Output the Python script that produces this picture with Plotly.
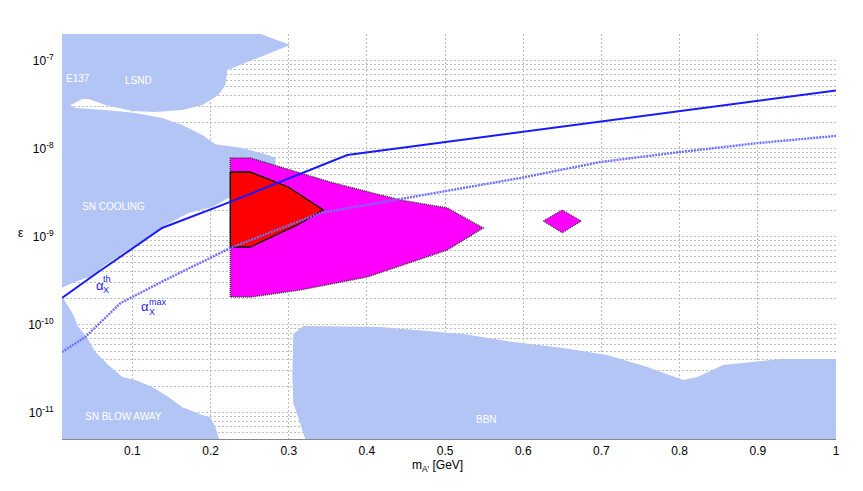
import math
import plotly.graph_objects as go

# ---------------- axis ticks ----------------
x_ticks = [0.1, 0.2, 0.3, 0.4, 0.5, 0.6, 0.7, 0.8, 0.9, 1.0]
x_tick_labels = ["0.1", "0.2", "0.3", "0.4", "0.5", "0.6", "0.7", "0.8", "0.9", "1"]
y_decades = [-12, -11, -10, -9, -8, -7]
y_mantissas = [2, 3, 4, 5, 6, 7, 8, 9]

# ---------------- excluded regions (blue) ----------------
# LSND + E137 + SN cooling (connected at the left edge)
left_x = [0.01, 0.264, 0.302, 0.2215, 0.219, 0.210, 0.1895, 0.164, 0.129, 0.100,
          0.0655, 0.0437, 0.0361, 0.0207, 0.0271, 0.0655, 0.1038, 0.138, 0.164,
          0.1895, 0.206, 0.241, 0.274, 0.283, 0.283, 0.2253, 0.2023, 0.1716,
          0.138, 0.1128, 0.0872, 0.0616, 0.0488, 0.0399, 0.0143, 0.01]
left_y = [2.0e-7, 2.0e-7, 1.50e-7, 7.80e-8, 5.26e-8, 4.06e-8, 3.12e-8, 2.74e-8, 2.60e-8, 2.67e-8,
          3.12e-8, 3.65e-8, 3.65e-8, 3.12e-8, 2.88e-8, 2.74e-8, 2.53e-8, 2.22e-8, 1.85e-8,
          1.42e-8, 1.12e-8, 1.01e-8, 8.43e-9, 7.80e-9, 6.1e-9, 2.81e-9, 2.16e-9, 1.85e-9,
          1.28e-9, 9.12e-10, 6.49e-10, 4.50e-10, 3.47e-10, 3.38e-10, 2.74e-10, 2.6e-10]

# SN blow away
snb_x = [0.01, 0.0233, 0.0309, 0.0425, 0.0527, 0.0693, 0.0872, 0.1038, 0.1256, 0.146,
         0.164, 0.1895, 0.1997, 0.2061, 0.210, 0.211, 0.01]
snb_y = [2.10e-10, 1.35e-10, 9.36e-11, 7.02e-11, 4.86e-11, 3.47e-11, 2.53e-11, 2.34e-11,
         1.95e-11, 1.50e-11, 1.15e-11, 9.36e-12, 8.89e-12, 6.84e-12, 5.26e-12, 5.0e-12, 5.0e-12]

# BBN
bbn_x = [0.3212, 0.3059, 0.3046, 0.3059, 0.3187, 0.4171, 0.5233, 0.5872, 0.6512, 0.7074,
         0.7586, 0.8046, 0.8225, 0.8558, 0.9286, 1.0, 1.0]
bbn_y = [5.0e-12, 1.28e-11, 2.53e-11, 7.80e-11, 9.62e-11, 9.36e-11, 7.80e-11, 6.32e-11,
         5.41e-11, 4.50e-11, 3.29e-11, 2.34e-11, 2.53e-11, 3.47e-11, 4.06e-11, 4.06e-11, 5.0e-12]

# ---------------- signal regions ----------------
mag_x = [0.2253, 0.2509, 0.357, 0.4427, 0.5028, 0.5488, 0.5028, 0.4005, 0.3148, 0.2509, 0.2253, 0.2253]
mag_y = [7.80e-9, 7.80e-9, 4.06e-9, 2.60e-9, 2.11e-9, 1.25e-9, 7.02e-10, 3.47e-10, 2.47e-10,
         2.05e-10, 2.05e-10, 7.80e-9]

red_x = [0.2253, 0.2509, 0.2995, 0.3442, 0.311, 0.2509, 0.2253, 0.2253]
red_y = [5.41e-9, 5.41e-9, 3.65e-9, 2.00e-9, 1.35e-9, 7.60e-10, 7.60e-10, 5.41e-9]

dia_x = [0.6256, 0.6499, 0.6742, 0.6499, 0.6256]
dia_y = [1.50e-9, 2.00e-9, 1.50e-9, 1.10e-9, 1.50e-9]

# ---------------- curves ----------------
ath_x = [0.01, 0.0565, 0.138, 0.2253, 0.3749, 1.0]
ath_y = [2.0e-10, 3.95e-10, 1.25e-9, 2.47e-9, 8.43e-9, 4.55e-8]

amax_x = [0.01, 0.0399, 0.0847, 0.1422, 0.2253, 0.3404, 0.5962, 0.6985, 0.8008, 0.8992, 1.0]
amax_y = [4.86e-11, 7.21e-11, 1.75e-10, 3.21e-10, 7.40e-10, 1.85e-9, 4.62e-9, 7.02e-9,
          9.12e-9, 1.15e-8, 1.39e-8]

BLUE = "#b3c5f5"
FONT = "Liberation Sans, Arial, Helvetica, sans-serif"

fig = go.Figure()


def patch(x, y, color, line=None):
    fig.add_trace(go.Scatter(
        x=x, y=y, mode="lines", fill="toself", fillcolor=color,
        line=line if line else dict(width=0, color=color),
        hoverinfo="skip", showlegend=False))


patch(left_x, left_y, BLUE)
patch(snb_x, snb_y, BLUE)
patch(bbn_x, bbn_y, BLUE)
patch(mag_x, mag_y, "#ff00ff", dict(color="#333333", width=1.5, dash="1px,1px"))
patch(dia_x, dia_y, "#ff00ff", dict(color="#333333", width=1.2, dash="1px,1px"))
patch(red_x, red_y, "#ff0000", dict(color="#000000", width=1.3))

fig.add_trace(go.Scatter(x=ath_x, y=ath_y, mode="lines",
                         line=dict(color="#1a1aff", width=2),
                         hoverinfo="skip", showlegend=False))
fig.add_trace(go.Scatter(x=amax_x, y=amax_y, mode="lines",
                         line=dict(color="#7070ff", width=2.4, dash="2px,1px"),
                         hoverinfo="skip", showlegend=False))

# ---------------- ticks ----------------
y_tickvals = [10.0 ** d for d in y_decades]
y_ticktext = [f"10<sup>{d}</sup>" for d in y_decades]
y_minorvals = [m * 10.0 ** d for d in y_decades for m in y_mantissas]

# ---------------- region labels ----------------
region_labels = [
    ("E137", 0.0125, 6.3e-8, "left"),
    ("LSND", 0.1077, 5.85e-8, "center"),
    ("SN COOLING", 0.0757, 2.22e-9, "center"),
    ("SN BLOW AWAY", 0.0885, 9.12e-12, "center"),
    ("BBN", 0.5527, 8.43e-12, "center"),
]
annotations = []
for txt, x, y, al in region_labels:
    annotations.append(dict(x=x, y=math.log10(y), xref="x", yref="y", text=txt, showarrow=False,
                            xanchor=al, font=dict(family=FONT, size=10, color="white")))

greek = [
    ("α", 0.0591, 2.81e-10, 13),
    ("th", 0.0675, 3.25e-10, 9),
    ("X", 0.0668, 2.45e-10, 9),
    ("α", 0.1166, 1.62e-10, 13),
    ("max", 0.1325, 1.82e-10, 9),
    ("X", 0.1256, 1.40e-10, 9),
]
for txt, x, y, s in greek:
    annotations.append(dict(x=x, y=math.log10(y), xref="x", yref="y", text=txt, showarrow=False,
                            font=dict(family=FONT, size=s, color="#1a1aff")))

annotations.append(dict(x=-0.053, y=0.509, xref="paper", yref="paper", text="ε",
                        xanchor="center", yanchor="middle",
                        showarrow=False, font=dict(family=FONT, size=12, color="black")))
annotations.append(dict(x=0.4845, y=-0.066, xref="paper", yref="paper",
                        xanchor="center", yanchor="middle",
                        text="m<sub>A'</sub> [GeV]", showarrow=False,
                        font=dict(family=FONT, size=12, color="black")))

GRID = dict(showgrid=True, gridcolor="#bdbdbd", griddash="2px,2px", gridwidth=1)

fig.update_layout(
    width=863, height=491,
    margin=dict(l=62, r=27, t=34, b=52),
    paper_bgcolor="white", plot_bgcolor="white",
    font=dict(family=FONT, size=12, color="black"),
    annotations=annotations,
    xaxis=dict(range=[0.01, 1.0], tickvals=x_ticks, ticktext=x_tick_labels,
               showline=True, linecolor="#888888", linewidth=1, layer="below traces",
               ticks="outside", ticklen=1, tickcolor="rgba(0,0,0,0)", zeroline=False, **GRID),
    yaxis=dict(type="log", range=[math.log10(5e-12), math.log10(2.0e-7)],
               tickvals=y_tickvals, ticktext=y_ticktext,
               minor=dict(tickvals=y_minorvals, **GRID),
               showline=False, layer="below traces",
               ticks="outside", ticklen=5, tickcolor="rgba(0,0,0,0)", zeroline=False, **GRID),
)

fig.write_html("out.html", config={"displayModeBar": False},
               post_script="document.body.style.margin='0px';")
